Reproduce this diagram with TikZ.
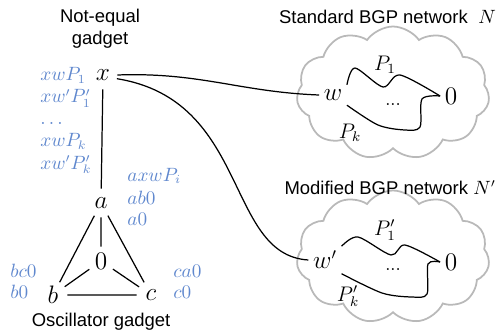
\documentclass[tikz,border=0pt]{standalone}
\usepackage{fontspec}
\setsansfont{Liberation Sans}
\usetikzlibrary{shapes.symbols}
\definecolor{lblblue}{RGB}{96,136,206}
\definecolor{cloudgray}{RGB}{185,185,185}
\newcommand{\figsize}{\fontsize{10.5}{12.6}\selectfont}
\newcommand{\vtxsize}{\fontsize{13.5}{16}\selectfont}

\tikzset{
  gadget/.style={font=\figsize\sffamily, align=center},
  title/.style={font=\figsize\sffamily, anchor=east, inner sep=1pt},
  lbl/.style={lblblue, anchor=base west, inner sep=0pt, font=\fontsize{10.5}{12.6}\selectfont},
  vtx/.style={circle, inner sep=0pt, minimum size=0.56cm, font=\vtxsize},
  endpt/.style={inner sep=2.5pt, font=\vtxsize},
  path label/.style={font=\fontsize{12}{14}\selectfont},
  wire/.style={line width=0.7pt},
  net/.style={cloud, cloud puffs=11, cloud puff arc=110, aspect=1.5,
    draw=cloudgray, line width=1pt, minimum width=3.86cm, minimum height=2.66cm}
}

\begin{document}
\begin{tikzpicture}[x=0.02cm,y=-0.02cm,font=\figsize]
  \useasboundingbox (0,0) rectangle (499,334);

  % not-equal gadget
  \node[gadget] (neq) at (100,29) {Not-equal\\gadget};
  \node[vtx] (x) at (103,75) {$x$};
  \foreach \t [count=\i from 0] in {xwP_1, xw'P'_1, \dots, xwP_k, xw'P'_k}
    \node[lbl] (lx\i) at (40,{81+22*\i}) {$\t$};

  % oscillator gadget
  \node[vtx] (a) at (101,203) {$a$};
  \node[vtx] (o) at (101,261) {$0$};
  \node[vtx] (b) at (53,295) {$b$};
  \node[vtx] (c) at (151,295) {$c$};
  \node[gadget] (osc) at (101,322) {Oscillator gadget};
  \draw[wire] (x) -- (a) (a) -- (b) (a) -- (o) (a) -- (c)
    (o) -- (b) (o) -- (c) (b) -- (c);

  \node[lbl] (la1) at (127,181) {$axwP_i$};
  \node[lbl] (la2) at (127,204) {$ab0$};
  \node[lbl] (la3) at (127,225) {$a0$};
  \node[lbl] (lb1) at (10,277) {$bc0$};
  \node[lbl] (lb2) at (10,298) {$b0$};
  \node[lbl] (lc1) at (173,277) {$ca0$};
  \node[lbl] (lc2) at (173,298) {$c0$};

  % standard network
  \node[net] (cn) at (393,93) {};
  \node[title] (tn) at (498,17) {Standard BGP network\hspace{6pt}$N$};
  \node[endpt] (w1) at (333,95) {$w$};
  \node[endpt] (z1) at (451,96) {$0$};
  \node[path label] (p1) at (385,65) {$P_1$};
  \node[path label] (pk) at (350,133) {$P_k$};
  \node (d1) at (393,105) {...};
  \draw[wire] plot[smooth] coordinates
    {(w1.north east) (355,68) (383,87) (400,75) (z1.west)};
  \draw[wire] plot[smooth] coordinates
    {(w1.south east) (378,125) (405,130) (420,127) (422,99) (z1.west)};

  % modified network
  \node[net] (cm) at (393,257) {};
  \node[title] (tm) at (498,188) {Modified BGP network\hspace{3pt}$N'$};
  \node[endpt] (w2) at (325,260) {$w'$};
  \node[endpt] (z2) at (451,262) {$0$};
  \node[path label] (p2) at (385,230) {$P'_1$};
  \node[path label] (pk2) at (348,296) {$P'_k$};
  \node (d2) at (393,270) {...};
  \draw[wire] plot[smooth] coordinates
    {(w2.north east) (358,237) (391,255) (405,245) (z2.west)};
  \draw[wire] plot[smooth] coordinates
    {(w2.south east) (382,293) (412,297) (427,294) (428,264) (z2.west)};

  % connectors
  \draw[wire] (x.east) .. controls (200,72) and (240,92) .. (w1.west);
  \draw[wire] (x.-15) .. controls (250,100) and (225,255) .. (w2.west);
\end{tikzpicture}
\end{document}
